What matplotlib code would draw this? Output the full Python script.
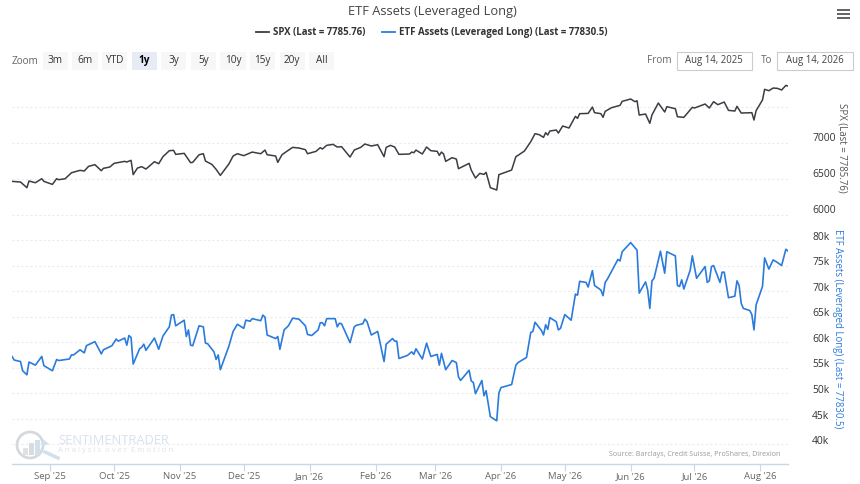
import numpy as np
import matplotlib
matplotlib.use("Agg")
import matplotlib.pyplot as plt
from matplotlib.patches import Rectangle, Circle, Polygon
from matplotlib.lines import Line2D
from matplotlib.transforms import ScaledTranslation

plt.rcParams['font.family'] = ['Open Sans', 'DejaVu Sans']

start = np.datetime64('2025-08-14')

# days after start, then index level
spx_days = [0,4,7,8,11,14,15,19,21,22,25,28,32,34,36,39,42,43,46,48,53,54,56,57,59,61,63,67,69,71,74,76,77,81,84,85,88,90,91,94,96,98,
            102,104,106,109,113,117,119,120,124,125,127,129,132,135,138,139,143,145,146,148,151,153,155,159,161,164,166,169,172,175,176,178,180,182,187,188,189,190,193,195,197,
            200,201,202,203,204,207,209,210,215,216,218,220,222,223,225,228,229,232,235,237,238,241,244,246,248,250,251,252,253,256,257,259,262,265,266,267,271,273,274,277,278,279,282,286,287,291,293,294,295,298,300,
            301,304,307,308,312,313,316,320,321,326,328,330,332,335,337,340,341,343,348,349,350,353,354,356,358,360,362,364,365]
spx_vals = [6463,6454,6375,6468,6444,6500,6463,6421,6500,6486,6500,6583,6616,6607,6671,6695,6611,6644,6662,6713,6741,6732,6755,6556,6648,6667,6634,6736,6708,6806,6889,6894,6838,6852,6722,6727,6833,6847,6745,6699,6630,6546,
            6704,6815,6847,6820,6870,6847,6898,6833,6815,6727,6833,6875,6935,6926,6903,6847,6880,6931,6912,6963,6977,6940,6945,6801,6898,6935,6982,6954,6972,6806,6935,6963,6940,6838,6843,6870,6861,6898,6843,6940,6889,
            6880,6824,6870,6843,6741,6792,6773,6639,6713,6620,6509,6574,6560,6588,6375,6343,6556,6588,6620,6806,6824,6884,7014,7125,7111,7074,7139,7107,7162,7176,7134,7232,7204,7366,7338,7403,7407,7495,7417,7403,7352,7435,7486,7519,7574,7607,7570,7583,7384,7398,7269,
            7384,7551,7426,7500,7472,7361,7352,7491,7482,7537,7482,7570,7528,7565,7449,7440,7505,7412,7417,7315,7445,7593,7741,7722,7759,7755,7732,7796,7785.76]

etf_days = [0,1,4,5,7,8,11,14,15,19,21,22,27,28,29,32,34,35,39,42,43,47,49,50,53,54,55,56,57,60,61,62,63,67,69,71,74,75,76,77,81,82,83,84,85,88,90,91,92,95,96,97,98,
            102,104,106,109,110,112,113,117,118,119,120,124,125,126,128,130,132,135,138,139,141,144,145,146,147,148,152,153,154,155,159,161,162,165,166,167,169,172,175,176,179,180,181,182,186,188,189,190,193,195,197,
            200,201,202,204,207,209,210,211,215,216,217,218,221,222,223,225,228,229,230,235,237,238,242,244,245,246,249,250,251,252,253,256,257,258,260,263,265,266,267,270,271,273,274,277,278,279,280,285,286,287,291,294,295,298,299,300,
            301,302,305,307,308,312,313,314,315,316,319,320,322,326,327,328,329,330,333,334,335,337,340,341,342,343,344,347,348,349,350,353,354,356,358,360,362,364,365]
etf_vals = [57200,56500,56200,54400,53600,56100,55500,57200,55400,54400,56600,56400,56700,57500,57500,58500,57900,59300,60100,57700,58500,59300,60600,60200,60800,59400,61300,60900,55700,58700,59000,59600,58400,60800,58600,61200,63000,65300,65400,63200,64300,61100,62400,59400,59300,63200,63000,59800,59700,58100,56600,57500,54600,
            59200,62100,63500,62700,64300,64100,64600,64200,65300,64900,61400,60700,61100,58600,62400,63200,64700,64500,63200,61500,61300,62400,63800,63800,63200,64600,64600,63000,63700,63600,59900,63000,63300,63600,64500,64000,61400,62100,56200,59600,60700,60200,60200,56800,57400,58100,57600,58700,56700,59800,57200,
            57600,55500,57800,54600,56400,56000,53200,52500,54500,52400,52100,49900,52500,49500,50500,45400,44600,50000,51100,51700,55500,56000,57000,61900,62100,63900,62300,61400,63400,62500,64800,64000,62400,62700,65400,64300,69400,69200,71900,71700,70800,74000,71100,70200,69100,71700,72300,76200,75900,77700,79500,78000,69600,71800,70200,66600,
            72000,72500,77800,73500,77700,76900,71100,70900,72200,70400,74100,76900,72500,74800,71700,72000,74800,75000,71700,73700,73700,68700,69000,72000,71100,67600,66600,66200,65400,62400,67300,70900,76500,74300,76100,75600,75000,78200,77830.5]

month_ticks = ['2025-09-01','2025-10-01','2025-11-01','2025-12-01','2026-01-01','2026-02-01','2026-03-01','2026-04-01','2026-05-01','2026-06-01','2026-07-01','2026-08-01']
month_labels = ["Sep '25","Oct '25","Nov '25","Dec '25","Jan '26","Feb '26","Mar '26","Apr '26","May '26","Jun '26","Jul '26","Aug '26"]
spx_ticks = [6000, 6500, 7000, 7500]
spx_tick_labels = ['6000', '6500', '7000', '']
etf_ticks = [40000, 45000, 50000, 55000, 60000, 65000, 70000, 75000, 80000]
etf_tick_labels = ['40k', '45k', '50k', '55k', '60k', '65k', '70k', '75k', '80k']
zoom_buttons = ['3m', '6m', 'YTD', '1y', '3y', '5y', '10y', '15y', '20y', 'All']

W, H = 860, 484
SPX_COL = '#3c3c44'
ETF_COL = '#2b7bdc'
GRID_COL = '#ebebeb'

def fx(px): return px / W
def fy(py): return 1 - py / H

def add_axes_px(x0, y0, x1, y1):
    return fig.add_axes([fx(x0), fy(y1), (x1 - x0) / W, (y1 - y0) / H])

def fig_text(px, py, s, **kw):
    kw.setdefault('va', 'center')
    kw.setdefault('color', '#666666')
    return fig.text(fx(px), fy(py), s, **kw)

def fig_box(x0, y0, x1, y1, **kw):
    fig.add_artist(Rectangle((fx(x0), fy(y1)), (x1 - x0) / W, (y1 - y0) / H,
                             transform=fig.transFigure, **kw))

fig = plt.figure(figsize=(W / 100, H / 100), dpi=100, facecolor='white')

spx_x = start + np.array(spx_days).astype('timedelta64[D]')
etf_x = start + np.array(etf_days).astype('timedelta64[D]')
xlim = (start, start + np.timedelta64(365, 'D'))

# top panel
ax1 = add_axes_px(12, 80, 788, 226)
ax1.plot(spx_x, spx_vals, color=SPX_COL, lw=1.1)
ax1.set_ylim(6000 - 11.3 / 0.072, 6000 + 134.7 / 0.072)

# bottom panel
ax2 = add_axes_px(12, 232, 788, 463.7)
ax2.plot(etf_x, etf_vals, color=ETF_COL, lw=1.2)
ax2.set_ylim(40000 - 19.4 / 0.0051, 80000 + 8 / 0.0051)

# labels sit a few px above their gridlines
for ax, ticks, labels, lift in [(ax1, spx_ticks, spx_tick_labels, 5.3), (ax2, etf_ticks, etf_tick_labels, 4.2)]:
    ax.patch.set_alpha(0)
    ax.set_xlim(xlim)
    ax.set_yticks(ticks)
    ax.set_yticklabels(labels, ha='left', fontsize=7.4, color='#333333')
    ax.yaxis.tick_right()
    ax.tick_params(axis='y', length=0, pad=17.3)
    for lab in ax.get_yticklabels():
        lab.set_transform(lab.get_transform() + ScaledTranslation(0, lift / 100, fig.dpi_scale_trans))
    ax.grid(axis='y', color=GRID_COL, lw=0.8, ls=(0, (2, 2)))
    ax.set_axisbelow(True)
    for s in ax.spines.values():
        s.set_visible(False)

ax1.tick_params(axis='x', length=0, labelbottom=False)
ax2.spines['bottom'].set_visible(True)
ax2.spines['bottom'].set_color('#ccd6eb')
ax2.spines['bottom'].set_linewidth(1)
ax2.set_xticks(np.array(month_ticks, dtype='datetime64[D]'))
ax2.set_xticklabels(month_labels, fontsize=6.8, color='#666666')
ax2.tick_params(axis='x', length=5, width=0.8, color='#ccd6eb', pad=1.2)

# axis titles
fig_text(842, 147.5, 'SPX (Last = 7785.76)', rotation=270, ha='center', fontsize=6.95, color='#555555')
fig_text(837, 329, 'ETF Assets (Leveraged Long) (Last = 77830.5)', rotation=270, ha='center', fontsize=6.9, color=ETF_COL)

# title and legend
fig_text(432, 11, 'ETF Assets (Leveraged Long)', ha='center', fontsize=9.25, color='#444444')
fig.add_artist(Line2D([fx(256), fx(269)], [fy(32), fy(32)], color=SPX_COL, lw=1.3))
fig_text(273, 32, 'SPX (Last = 7785.76)', ha='left', fontsize=6.95, color='#333333', fontweight='bold')
fig.add_artist(Line2D([fx(382), fx(395)], [fy(32), fy(32)], color=ETF_COL, lw=1.3))
fig_text(399, 32, 'ETF Assets (Leveraged Long) (Last = 77830.5)', ha='left', fontsize=6.95, color='#333333', fontweight='bold')

# range selector
fig_text(12, 61, 'Zoom', ha='left', fontsize=7.2)
for i, label in enumerate(zoom_buttons):
    x0 = 42.7 + i * 29.6
    on = label == '1y'
    fig_box(x0, 52.5, x0 + 25.2, 69.5, facecolor='#e6ebf5' if on else '#f7f7f7', edgecolor='none')
    fig_text(x0 + 12.6, 60.2, label, ha='center', fontsize=7.2,
             color='#000000' if on else '#333333', fontweight='bold' if on else 'normal')

fig_text(646.5, 60.2, 'From', ha='left', fontsize=7.2)
fig_text(761, 60.2, 'To', ha='left', fontsize=7.2)
for x0, x1, s in [(676.5, 751.5, 'Aug 14, 2025'), (777, 852.5, 'Aug 14, 2026')]:
    fig_box(x0, 52.5, x1, 69.5, facecolor='white', edgecolor='#cccccc', lw=0.8)
    fig_text((x0 + x1) / 2, 60.2, s, ha='center', fontsize=6.9, color='#444444')

# menu icon
for y in [10, 14, 18]:
    fig_box(837, y - 1, 850, y + 1, facecolor='#666666', edgecolor='none')

# source and watermark
fig_text(780, 454.5, 'Source: Barclays, Credit Suisse, ProShares, Direxion', ha='right', fontsize=5.1, color='#999999')
fig_text(58, 440, 'SENTIMENTRADER', ha='left', fontsize=9.3, color='#d6e2ee')
fig_text(58, 451, 'A n a l y s i s  o v e r  E m o t i o n', ha='left', fontsize=5.6, color='#dde3e8')

logo = fig.add_axes([fx(12), fy(464), 50 / W, 40 / H], aspect='equal')
logo.axis('off')
logo.patch.set_alpha(0)
logo.set_xlim(12, 62)
logo.set_ylim(464, 424)
logo.add_patch(Circle((30, 445), 13, fill=False, ec='#d4d9dd', lw=2))
for bx, bh, col in [(23, 7, '#e0e2e4'), (29, 12, '#d9dcdf'), (35, 15, '#cfe0ee')]:
    logo.add_patch(Rectangle((bx, 455 - bh), 5, bh, fc=col, ec='none'))
logo.add_patch(Polygon([[43, 439], [49, 444], [43, 446]], fc='#cfe0ee', ec='none'))
logo.plot([45, 58], [452, 458], color='#cfe0ee', lw=2.5)

fig.savefig('out.png', dpi=100)
